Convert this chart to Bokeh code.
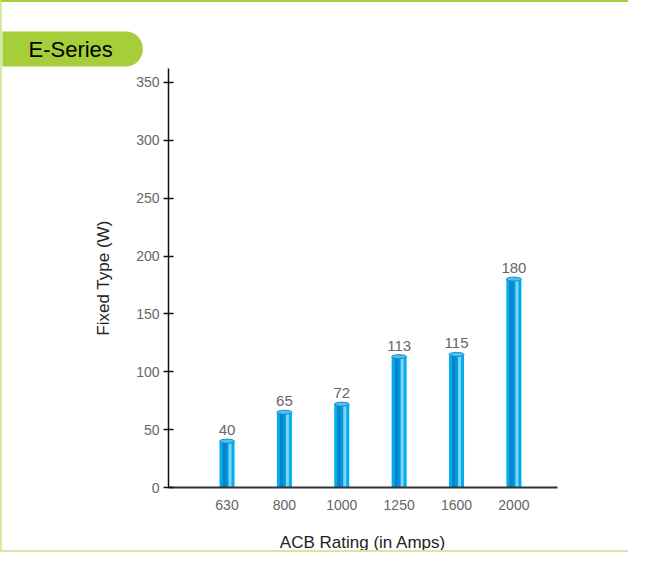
from bokeh.plotting import figure
from bokeh.models import Range1d, FixedTicker, LinearAxis
from bokeh.transform import dodge
from bokeh.core.properties import value
from bokeh.embed import file_html
from bokeh.resources import INLINE

# ---- data ----
ratings = ["630", "800", "1000", "1250", "1600", "2000"]
watts = [40, 65, 72, 113, 115, 180]
y_ticks = [0, 50, 100, 150, 200, 250, 300, 350]
title_text = "E-Series"
x_title = "ACB Rating (in Amps)"
y_title = "Fixed Type (W)"

xs = list(range(len(ratings)))
labels = [str(v) for v in watts]

W, H = 628, 552
BL, BR, BT, BB = 166, 73, 66, 67
FONT = "Liberation Sans"
x0, x1 = -1.02, 5.76
frame_w = W - BL - BR
upx = (x1 - x0) / frame_w  # data units per screen pixel

p = figure(width=W, height=H, output_backend="svg", toolbar_location=None,
           x_range=Range1d(x0, x1), y_range=Range1d(0, 362),
           min_border_left=BL, min_border_right=BR, min_border_top=BT, min_border_bottom=BB)
p.grid.visible = False
p.outline_line_color = None
p.background_fill_color = "white"
p.border_fill_color = "white"
p.styles = {"border-top": "2px solid #a6ce39",
            "border-left": "2px solid #d3e9a0",
            "border-bottom": "2px solid #d3e9a0"}

# empty spacer axis above the frame, so the title tab sits at the very top
spacer = LinearAxis(ticker=FixedTicker(ticks=[]), axis_line_color=None,
                    major_tick_out=30, major_tick_in=0, major_tick_line_color="white",
                    minor_tick_line_color=None)
p.add_layout(spacer, "above")

# title tab
p.title.text = title_text
p.title.align = "left"
p.title.vertical_align = "top"
p.title.offset = -BL
p.title.standoff = 0
p.title.text_font = FONT
p.title.text_font_size = "22px"
p.title.text_font_style = "normal"
p.title.text_color = "#000000"
p.title.background_fill_color = "#a6ce39"
p.title.padding = dict(left=26, right=30, top=5, bottom=5)
p.title.border_radius = dict(top_left=0, top_right=17, bottom_right=17, bottom_left=0)

# axes
xa = p.below[0]
xa.ticker = FixedTicker(ticks=xs)
xa.major_label_overrides = {i: r for i, r in zip(xs, ratings)}
xa.major_tick_out = 0
xa.major_tick_in = 0
xa.minor_tick_line_color = None
xa.axis_line_color = "#333333"
xa.axis_line_width = 2
xa.major_label_standoff = 12
xa.major_label_text_font = FONT
xa.major_label_text_font_size = "14px"
xa.major_label_text_color = "#666666"
xa.axis_label = x_title
xa.axis_label_text_font = FONT
xa.axis_label_text_font_style = "normal"
xa.axis_label_text_font_size = "17px"
xa.axis_label_text_color = "#222222"
xa.axis_label_standoff = 20

ya = p.left[0]
ya.ticker = FixedTicker(ticks=y_ticks)
ya.major_tick_out = 5
ya.major_tick_in = 5
ya.major_tick_line_color = "#111111"
ya.major_tick_line_width = 1.5
ya.minor_tick_line_color = None
ya.axis_line_color = "#111111"
ya.axis_line_width = 1.5
ya.major_label_standoff = 4
ya.major_label_text_font = FONT
ya.major_label_text_font_size = "14px"
ya.major_label_text_color = "#666666"
ya.axis_label = y_title
ya.axis_label_text_font = FONT
ya.axis_label_text_font_style = "normal"
ya.axis_label_text_font_size = "17px"
ya.axis_label_text_color = "#222222"
ya.axis_label_standoff = 20

src = dict(x=xs, top=watts, lab=labels)

# cylinder bars: base + stripes
p.vbar(x="x", top="top", bottom=0, width=15 * upx, source=src,
       fill_color="#00aeef", line_color=None)
p.vbar(x=dodge("x", -2.75 * upx), top="top", bottom=0, width=3.5 * upx, source=src,
       fill_color="#0a82c8", line_color=None)
p.vbar(x=dodge("x", 0.25 * upx), top="top", bottom=0, width=2.5 * upx, source=src,
       fill_color="#0099dd", line_color=None)
p.vbar(x=dodge("x", 3.0 * upx), top="top", bottom=0, width=3.0 * upx, source=src,
       fill_color="#7fd4f7", line_color=None)
p.ellipse(x="x", y="top", width=15 * upx, height=4, height_units="screen", source=src,
          fill_color="#4cc3f2", line_color="#1588cc", line_width=1)

p.text(x="x", y="top", text="lab", source=src, y_offset=-6,
       text_align="center", text_baseline="bottom",
       text_font=value(FONT), text_font_size="15px", text_color="#666666")

open("out.html", "w").write(file_html(p, INLINE))
